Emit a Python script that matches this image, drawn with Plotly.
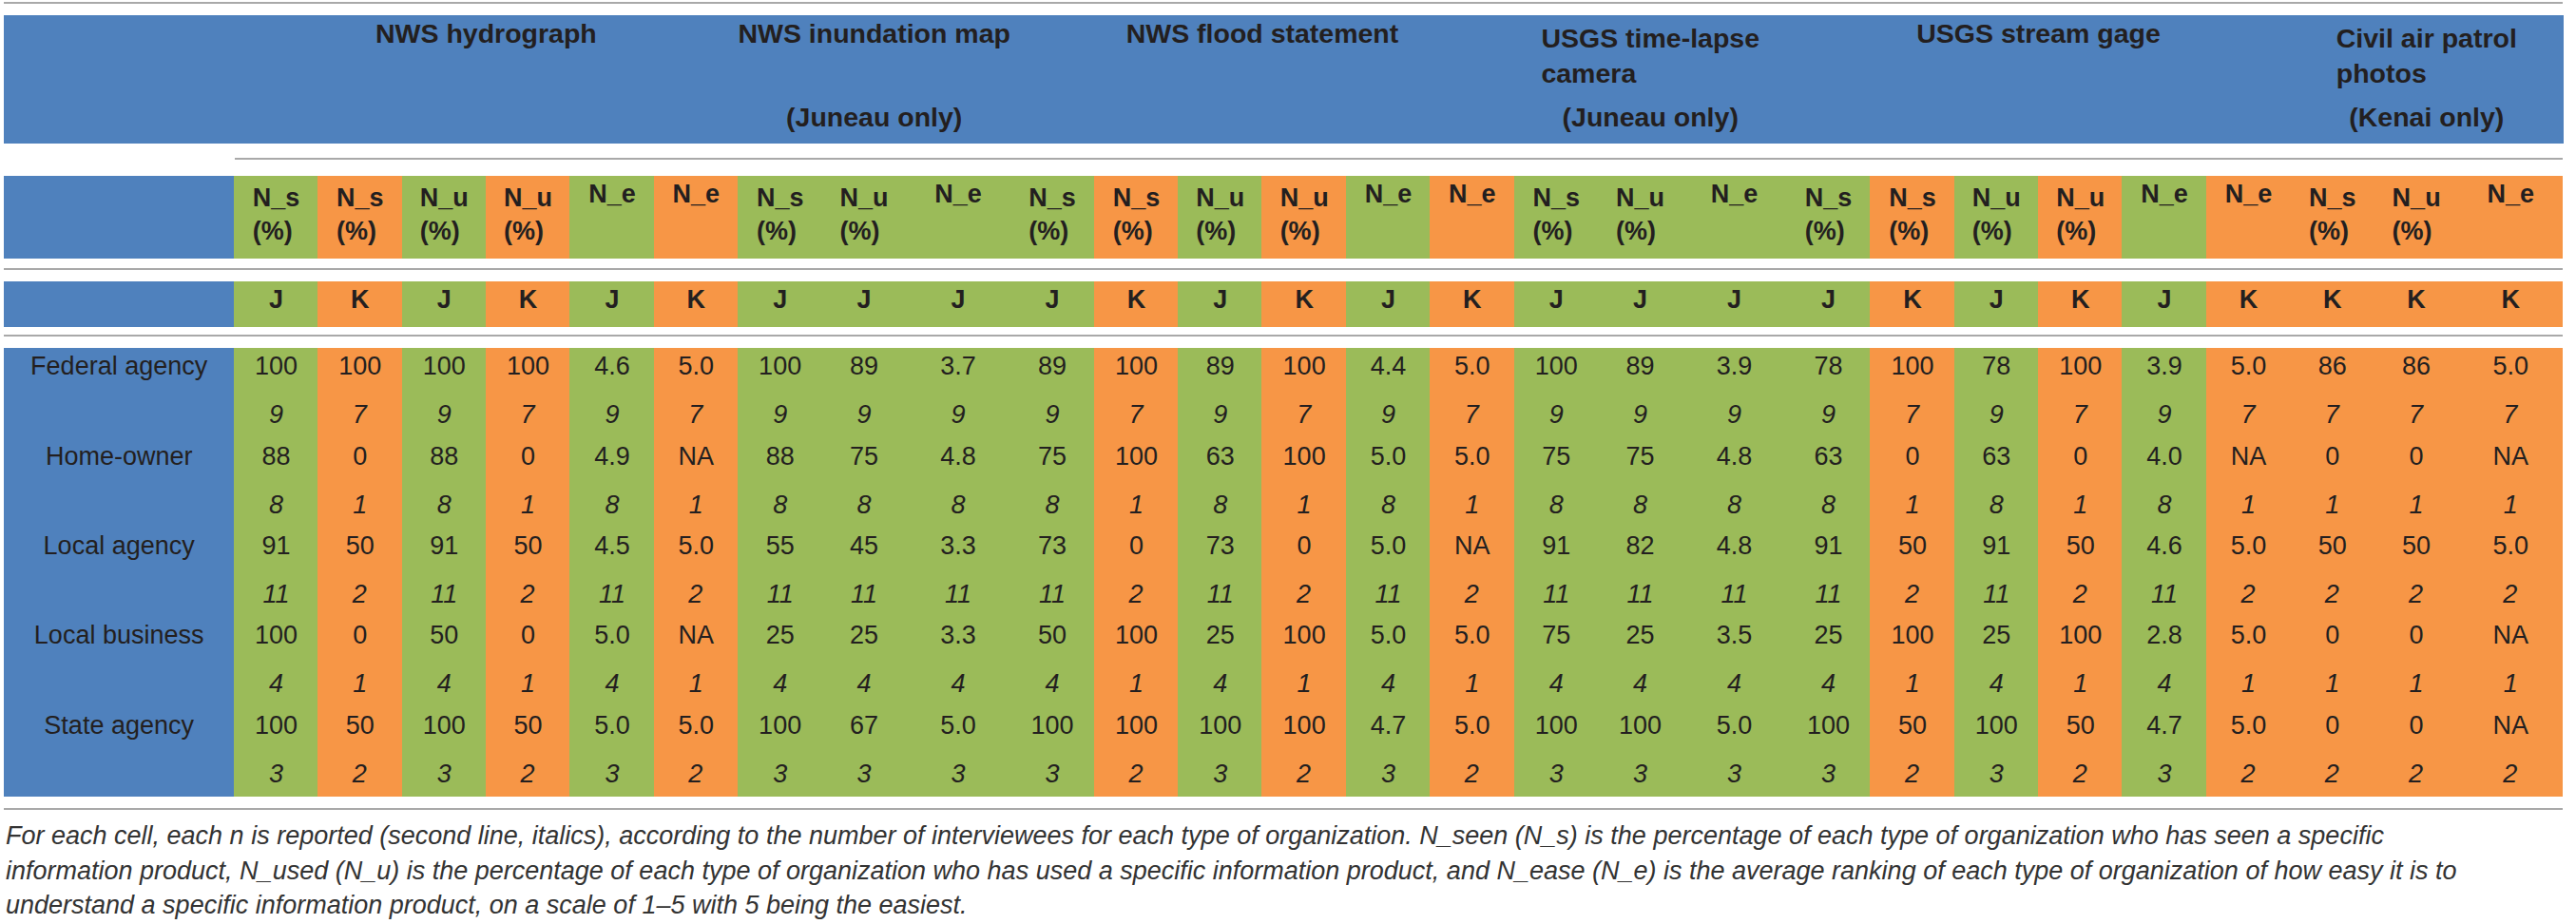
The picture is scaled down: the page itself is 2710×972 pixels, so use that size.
import plotly.graph_objects as go

# ---------------- data ----------------
groups = [
    "NWS hydrograph",
    "NWS\u00a0inundation\u00a0map",
    "NWS flood statement",
    "USGS time-lapse<br>camera",
    "USGS stream gage",
    "Civil air patrol<br>photos",
]
group_notes = ["", "(Juneau only)", "", "(Juneau only)", "", "(Kenai only)"]
group_of_col = [0] * 6 + [1] * 3 + [2] * 6 + [3] * 3 + [4] * 6 + [5] * 3
measures = ["N_s", "N_s", "N_u", "N_u", "N_e", "N_e",
            "N_s", "N_u", "N_e",
            "N_s", "N_s", "N_u", "N_u", "N_e", "N_e",
            "N_s", "N_u", "N_e",
            "N_s", "N_s", "N_u", "N_u", "N_e", "N_e",
            "N_s", "N_u", "N_e"]
sites = ["J", "K", "J", "K", "J", "K",
         "J", "J", "J",
         "J", "K", "J", "K", "J", "K",
         "J", "J", "J",
         "J", "K", "J", "K", "J", "K",
         "K", "K", "K"]

organizations = ["Federal agency", "Home-owner", "Local agency", "Local business", "State agency"]

federal_values = [100, 100, 100, 100, 4.6, 5.0, 100, 89, 3.7, 89, 100, 89, 100, 4.4, 5.0,
                  100, 89, 3.9, 78, 100, 78, 100, 3.9, 5.0, 86, 86, 5.0]
federal_n = [9, 7, 9, 7, 9, 7, 9, 9, 9, 9, 7, 9, 7, 9, 7, 9, 9, 9, 9, 7, 9, 7, 9, 7, 7, 7, 7]

homeowner_values = [88, 0, 88, 0, 4.9, None, 88, 75, 4.8, 75, 100, 63, 100, 5.0, 5.0,
                    75, 75, 4.8, 63, 0, 63, 0, 4.0, None, 0, 0, None]
homeowner_n = [8, 1, 8, 1, 8, 1, 8, 8, 8, 8, 1, 8, 1, 8, 1, 8, 8, 8, 8, 1, 8, 1, 8, 1, 1, 1, 1]

local_agency_values = [91, 50, 91, 50, 4.5, 5.0, 55, 45, 3.3, 73, 0, 73, 0, 5.0, None,
                       91, 82, 4.8, 91, 50, 91, 50, 4.6, 5.0, 50, 50, 5.0]
local_agency_n = [11, 2, 11, 2, 11, 2, 11, 11, 11, 11, 2, 11, 2, 11, 2, 11, 11, 11,
                  11, 2, 11, 2, 11, 2, 2, 2, 2]

local_business_values = [100, 0, 50, 0, 5.0, None, 25, 25, 3.3, 50, 100, 25, 100, 5.0, 5.0,
                         75, 25, 3.5, 25, 100, 25, 100, 2.8, 5.0, 0, 0, None]
local_business_n = [4, 1, 4, 1, 4, 1, 4, 4, 4, 4, 1, 4, 1, 4, 1, 4, 4, 4, 4, 1, 4, 1, 4, 1, 1, 1, 1]

state_values = [100, 50, 100, 50, 5.0, 5.0, 100, 67, 5.0, 100, 100, 100, 100, 4.7, 5.0,
                100, 100, 5.0, 100, 50, 100, 50, 4.7, 5.0, 0, 0, None]
state_n = [3, 2, 3, 2, 3, 2, 3, 3, 3, 3, 2, 3, 2, 3, 2, 3, 3, 3, 3, 2, 3, 2, 3, 2, 2, 2, 2]

footnote_lines = [
    "For each cell, each n is reported (second line, italics), according to the number of "
    "interviewees for each type of organization. N_seen (N_s) is the percentage of each type of "
    "organization who has seen a specific",
    "information product, N_used (N_u) is the percentage of each type of organization who has used "
    "a specific information product, and N_ease (N_e) is the average ranking of each type of "
    "organization of how easy it is to",
    "understand a specific information product, on a scale of 1–5 with 5 being the easiest.",
]

# ---------------- style ----------------
W, H = 2710, 972
BLUE, GREEN, ORANGE = "#4F81BD", "#9BBB59", "#F79646"
TXT = "#231F20"
RULE = "#A9A9A9"
FONT = "Liberation Sans, Arial, sans-serif"
FIRST_W, STD_W, WIDE_W = 243, 88.6, 110
X0, X1 = 4, 2696
EMPTY_HEADER = 16  # plotly reserves this for a table without header
NONE = "rgba(0,0,0,0)"


def ydom(top, bottom):
    return [max(0.0, 1 - bottom / H), min(1.0, 1 - top / H)]


xdom = [X0 / W, X1 / W]
ncol = len(measures)
group_sizes = [group_of_col.count(g) for g in range(len(groups))]
col_w = [WIDE_W if (measures[i] == "N_e" and group_sizes[group_of_col[i]] == 3) else STD_W
         for i in range(ncol)]
group_w = [sum(w for w, g in zip(col_w, group_of_col) if g == k) for k in range(len(groups))]
col_fill = [BLUE] + [GREEN if s == "J" else ORANGE for s in sites]
title_fill = [BLUE] * (len(groups) + 1)


def fmt(v, m):
    if v is None:
        return "NA"
    return f"{v:.1f}" if m == "N_e" else str(int(v))


rows_values = [federal_values, homeowner_values, local_agency_values, local_business_values, state_values]
rows_n = [federal_n, homeowner_n, local_agency_n, local_business_n, state_n]

data_cols = [[]]
for org in organizations:
    data_cols[0] += [org, ""]
for j in range(ncol):
    col = []
    for vals, ns in zip(rows_values, rows_n):
        col += [fmt(vals[j], measures[j]), f"<i>{ns[j]}</i>"]
    data_cols.append(col)

measure_labels = [""] + [m + ("<br>(%)" if m != "N_e" else "") for m in measures]
site_labels = [""] + list(sites)

title_font = dict(family=FONT, size=28.5, color=TXT, weight="bold")
bold = dict(family=FONT, size=27, color=TXT, weight="bold")
light = dict(family=FONT, size=27, color=TXT)


def header_table(labels, widths, fills, top, bottom, height, font):
    return go.Table(
        domain=dict(x=xdom, y=ydom(top, bottom)),
        columnwidth=widths,
        header=dict(values=labels, fill_color=fills, line=dict(color=fills, width=1),
                    height=height, align="center", font=font),
        cells=dict(values=[]),
    )


def cells_table(columns, widths, fills, top, bottom, height, font):
    # table without a header: plotly keeps EMPTY_HEADER px above the first row
    return go.Table(
        domain=dict(x=xdom, y=ydom(top - EMPTY_HEADER, bottom)),
        columnwidth=widths,
        header=dict(values=[], fill_color=NONE, line=dict(color=NONE, width=0)),
        cells=dict(values=columns, fill_color=fills, line=dict(color=fills, width=1),
                   height=height, align="center", font=font),
    )


fig = go.Figure()
# title band: product names, then site notes
fig.add_trace(cells_table([[""]] + [[g] for g in groups], [FIRST_W] + group_w, title_fill,
                          15.5, 110, 88, title_font))
fig.add_trace(cells_table([[""]] + [[n] for n in group_notes], [FIRST_W] + group_w, title_fill,
                          103.5, 165, 46.5, title_font))
# measure row and site row
fig.add_trace(header_table(measure_labels, [FIRST_W] + col_w, col_fill, 185, 280, 86, bold))
fig.add_trace(header_table(site_labels, [FIRST_W] + col_w, col_fill, 296, 350, 47, bold))
# data
fig.add_trace(cells_table(data_cols, [FIRST_W] + col_w, col_fill, 366, 850, 47.2, light))

# rules
rules = [(3, X0), (167, X0 + FIRST_W), (283, X0), (353, X0), (851, X0)]
for y, xs in rules:
    fig.add_shape(type="line", xref="paper", yref="paper", x0=xs / W, x1=X1 / W,
                  y0=1 - y / H, y1=1 - y / H, line=dict(color=RULE, width=2))

for line_text, y in zip(footnote_lines, [879, 916, 952]):
    fig.add_annotation(text=line_text, xref="paper", yref="paper", x=X0 / W, y=1 - y / H,
                       xanchor="left", yanchor="middle", align="left", showarrow=False,
                       font=dict(family=FONT, size=27, color="#333333", style="italic"))

fig.update_layout(width=W, height=H, margin=dict(l=0, r=0, t=0, b=0),
                  paper_bgcolor="white", plot_bgcolor="white")
fig.write_html("out.html", config={"displayModeBar": False},
               post_script="document.body.style.margin='0';")
